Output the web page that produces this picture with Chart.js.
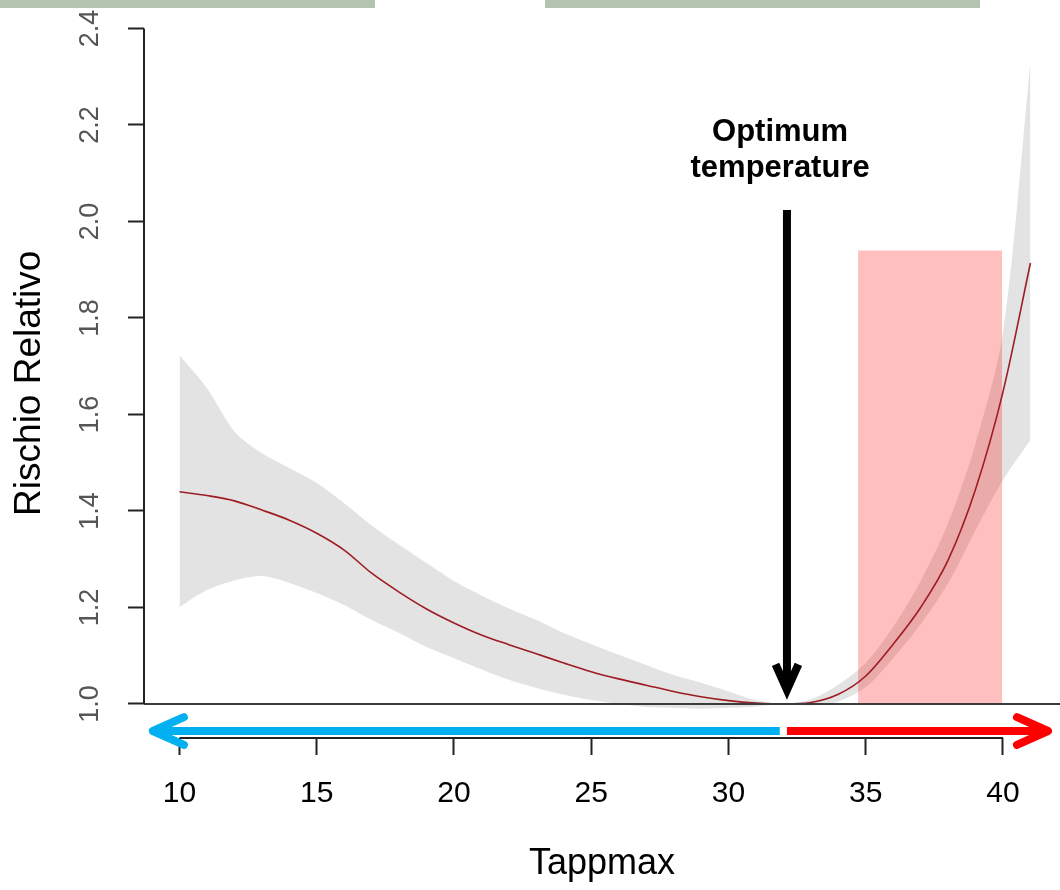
<!DOCTYPE html>
<html>
<head>
<meta charset="utf-8">
<script src="https://cdn.jsdelivr.net/npm/chart.js@4.4.1/dist/chart.umd.min.js"></script>
<style>
  html, body { margin: 0; padding: 0; background: #fff; }
  #chart { display: block; }
</style>
</head>
<body>
<canvas id="chart" width="1060" height="890"></canvas>
<script>
// Temperature (Tappmax) and relative risk with its confidence band
const tappmax = [10, 11, 12, 13, 14, 15, 16, 17, 18, 19, 20, 21, 22, 23, 24, 25,
                 26, 27, 28, 29, 30, 31, 32, 33, 34, 35, 36, 37, 38, 39, 40, 41];
const rischio = [1.44, 1.432, 1.421, 1.402, 1.381, 1.354, 1.319, 1.271, 1.232, 1.197, 1.168, 1.143,
                 1.123, 1.104, 1.085, 1.067, 1.052, 1.039, 1.026, 1.015, 1.007, 1.002, 1.0, 1.003,
                 1.02, 1.058, 1.124, 1.2, 1.298, 1.445, 1.647, 1.914];
const ciLower = [1.201, 1.236, 1.256, 1.265, 1.251, 1.23, 1.205, 1.174, 1.147, 1.118, 1.095, 1.072,
                 1.05, 1.033, 1.019, 1.008, 1.0, 0.994, 0.992, 0.99, 0.992, 0.995, 1.0, 0.997,
                 1.005, 1.035, 1.095, 1.165, 1.25, 1.36, 1.464, 1.547];
const ciUpper = [1.723, 1.655, 1.565, 1.52, 1.489, 1.458, 1.416, 1.37, 1.33, 1.292, 1.255, 1.225,
                 1.198, 1.174, 1.147, 1.124, 1.102, 1.081, 1.06, 1.044, 1.026, 1.008, 1.0, 1.01,
                 1.04, 1.085, 1.16, 1.255, 1.375, 1.54, 1.77, 2.33];

const xTicks = [10, 15, 20, 25, 30, 35, 40];
const yTicks = [1.0, 1.2, 1.4, 1.6, 1.8, 2.0, 2.2, 2.4];

// annotations (data units)
const optimumTemp = 32.13;
const heatWindow = [34.72, 39.97];
const heatTop = 1.94;

const FONT = '"Liberation Sans", Arial, Helvetica, sans-serif';
Chart.defaults.font.family = FONT;

function pts(ys) {
    return tappmax.map((x, i) => ({ x: x, y: ys[i] }));
}

function arrow(ctx, x0, y0, x1, y1, color, head, cap) {
    // shaft from (x0,y0) to tip (x1,y1), V head at the tip
    const ang = Math.atan2(y1 - y0, x1 - x0);
    ctx.save();
    ctx.strokeStyle = color;
    ctx.lineWidth = 8;
    ctx.lineCap = 'butt';
    ctx.beginPath();
    ctx.moveTo(x0, y0);
    ctx.lineTo(x1 - Math.cos(ang) * 3, y1 - Math.sin(ang) * 3);
    ctx.stroke();
    ctx.lineCap = cap;
    ctx.lineJoin = cap === 'round' ? 'round' : 'miter';
    const a1 = ang + Math.PI - 0.42, a2 = ang + Math.PI + 0.42;
    ctx.beginPath();
    ctx.moveTo(x1 + Math.cos(a1) * head, y1 + Math.sin(a1) * head);
    ctx.lineTo(x1, y1);
    ctx.lineTo(x1 + Math.cos(a2) * head, y1 + Math.sin(a2) * head);
    ctx.stroke();
    ctx.restore();
}

const decor = {
    id: 'decor',
    afterDatasetsDraw(chart) {
        const { ctx, chartArea: a, scales: { y } } = chart;
        // reference line at RR = 1
        const y1 = y.getPixelForValue(1);
        ctx.save();
        ctx.strokeStyle = '#3c3c3c';
        ctx.lineWidth = 2;
        ctx.beginPath();
        ctx.moveTo(a.left, y1);
        ctx.lineTo(a.right, y1);
        ctx.stroke();
        ctx.restore();
    },
    afterDraw(chart) {
        const { ctx, chartArea: a, scales: { x, y } } = chart;
        ctx.save();
        // axis lines spanning the ticks only (R style)
        ctx.strokeStyle = '#222';
        ctx.lineWidth = 2;
        ctx.beginPath();
        ctx.moveTo(x.getPixelForValue(xTicks[0]), a.bottom);
        ctx.lineTo(x.getPixelForValue(xTicks[xTicks.length - 1]), a.bottom);
        ctx.moveTo(a.left, y.getPixelForValue(yTicks[0]));
        ctx.lineTo(a.left, y.getPixelForValue(yTicks[yTicks.length - 1]));
        ctx.stroke();

        // cold / hot arrows under the curve
        const ay = y.getPixelForValue(0.944);
        arrow(ctx, x.getPixelForValue(31.87), ay, x.getPixelForValue(9.03), ay, '#00B0F0', 34, 'round');
        arrow(ctx, x.getPixelForValue(optimumTemp), ay, x.getPixelForValue(41.64), ay, '#FF0000', 34, 'round');

        // optimum temperature arrow + label
        const ox = x.getPixelForValue(optimumTemp);
        arrow(ctx, ox, y.getPixelForValue(2.024), ox, y.getPixelForValue(1.029), '#000', 28, 'butt');
        ctx.fillStyle = '#000';
        ctx.font = 'bold 31px ' + FONT;
        ctx.textAlign = 'center';
        ctx.textBaseline = 'alphabetic';
        const tx = x.getPixelForValue(31.88);
        ctx.fillText('Optimum', tx, y.getPixelForValue(2.167));
        ctx.fillText('temperature', tx, y.getPixelForValue(2.092));

        // slide header boxes cut at the top
        ctx.fillStyle = '#B4C3AF';
        ctx.fillRect(0, 0, 375, 8);
        ctx.fillRect(545, 0, 435, 8);
        ctx.restore();
    }
};

new Chart(document.getElementById('chart'), {
    type: 'line',
    data: {
        datasets: [
            {
                label: 'Rischio Relativo',
                data: pts(rischio),
                borderColor: '#9E1C22',
                borderWidth: 1.6,
                pointRadius: 0,
                cubicInterpolationMode: 'monotone',
                fill: false
            },
            {
                label: 'heat',
                data: [{ x: heatWindow[0], y: heatTop }, { x: heatWindow[1], y: heatTop }],
                borderWidth: 0,
                pointRadius: 0,
                backgroundColor: 'rgba(255, 0, 0, 0.25)',
                fill: { value: 1 }
            },
            {
                label: 'upper',
                data: pts(ciUpper),
                borderWidth: 0,
                pointRadius: 0,
                tension: 0.3,
                backgroundColor: '#E3E3E3',
                fill: '+1'
            },
            {
                label: 'lower',
                data: pts(ciLower),
                borderWidth: 0,
                pointRadius: 0,
                tension: 0.3,
                fill: false
            }
        ]
    },
    options: {
        responsive: false,
        animation: false,
        layout: { padding: { top: 28.5, left: 0, right: 0, bottom: 0 } },
        plugins: {
            legend: { display: false },
            tooltip: { enabled: false }
        },
        scales: {
            x: {
                type: 'linear',
                min: 8.707,
                max: 42.077,
                afterFit: s => { s.height = 152; s.paddingLeft = 0; s.paddingRight = 0; },
                afterBuildTicks: s => { s.ticks = xTicks.map(v => ({ value: v })); },
                border: { display: false },
                grid: { drawOnChartArea: false, tickLength: 17, tickWidth: 2, tickColor: '#222' },
                ticks: {
                    color: '#000',
                    font: { size: 30 },
                    padding: 21,
                    maxRotation: 0,
                    autoSkip: false
                },
                title: {
                    display: true,
                    text: 'Tappmax',
                    color: '#000',
                    font: { size: 36 },
                    padding: { top: 0, bottom: 4 }
                }
            },
            y: {
                type: 'linear',
                min: 0.9295,
                max: 2.4,
                afterFit: s => { s.width = 144; s.paddingTop = 0; s.paddingBottom = 0; },
                afterBuildTicks: s => { s.ticks = yTicks.map(v => ({ value: v })); },
                border: { display: false },
                grid: { drawOnChartArea: false, tickLength: 16, tickWidth: 2, tickColor: '#222' },
                ticks: {
                    color: '#555',
                    font: { size: 27 },
                    padding: 19,
                    minRotation: 90,
                    maxRotation: 90,
                    crossAlign: 'center',
                    callback: v => v.toFixed(1)
                },
                title: {
                    display: true,
                    text: 'Rischio Relativo',
                    color: '#000',
                    font: { size: 37 },
                    padding: { top: 8, bottom: 0 }
                }
            }
        }
    },
    plugins: [decor]
});
</script>
</body>
</html>
